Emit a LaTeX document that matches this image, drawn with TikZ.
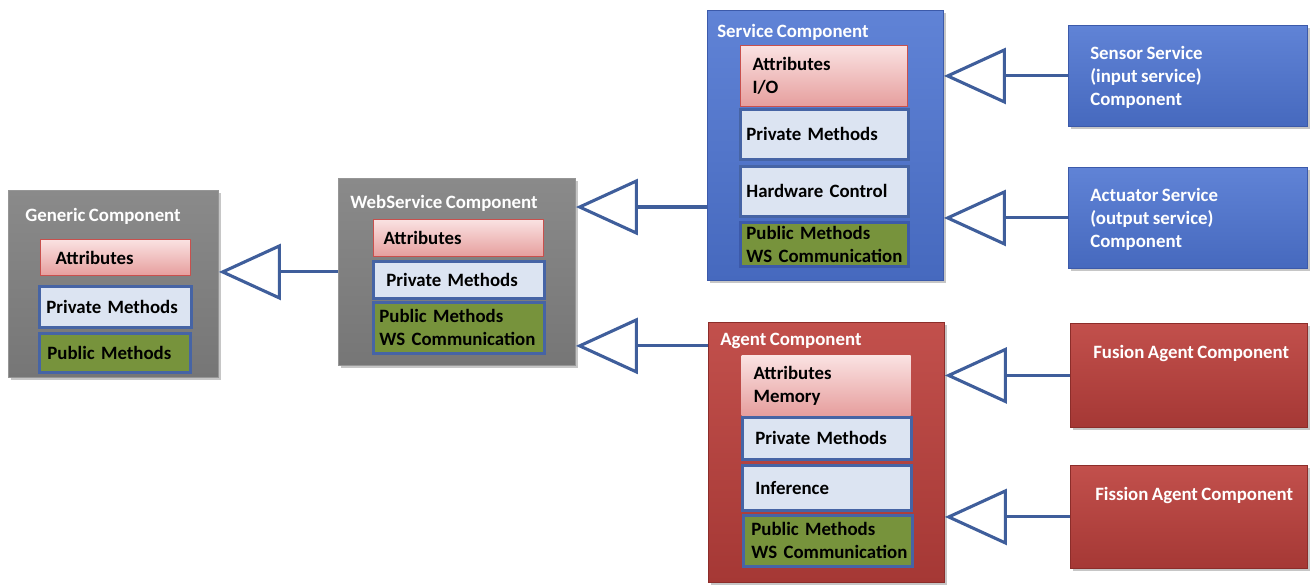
\documentclass[tikz,border=0pt]{standalone}
\usepackage{fontspec}
\setmainfont{Carlito}[WordSpace=0.8]
\usetikzlibrary{arrows.meta,positioning,shadows}
\hyphenpenalty=10000
\definecolor{gtop}{RGB}{138,138,138}
\definecolor{gbot}{RGB}{118,118,118}
\definecolor{gbd}{RGB}{150,150,150}
\definecolor{btop}{RGB}{96,131,214}
\definecolor{bbot}{RGB}{70,105,190}
\definecolor{bbd}{RGB}{60,90,170}
\definecolor{rtop}{RGB}{194,80,76}
\definecolor{rbot}{RGB}{165,56,53}
\definecolor{rbd}{RGB}{140,45,42}
\definecolor{atop}{RGB}{250,226,226}
\definecolor{abot}{RGB}{230,158,157}
\definecolor{abd}{RGB}{200,80,77}
\definecolor{pc}{RGB}{220,228,242}
\definecolor{grc}{RGB}{119,147,60}
\definecolor{pbd}{RGB}{70,100,165}
\definecolor{ac}{RGB}{63,94,155}
\tikzset{comp/.style={draw,anchor=north west,inner sep=0pt,line width=.6pt,
   drop shadow={shadow xshift=1.5pt,shadow yshift=-1.5pt,opacity=.45}},
 gcomp/.style={comp,top color=gtop,bottom color=gbot,draw=gbd},
 bcomp/.style={comp,top color=btop,bottom color=bbot,draw=bbd},
 rcomp/.style={comp,top color=rtop,bottom color=rbot,draw=rbd},
 ttl/.style={anchor=west,text=white,inner sep=0pt},
 leaf/.style={anchor=west,text=white,align=left,inner sep=0pt},
 part/.style={anchor=north west,align=left,inner ysep=0pt},
 attr/.style={part,draw=abd,line width=.8pt,top color=atop,bottom color=abot},
 priv/.style={part,draw=pbd,line width=2pt,fill=pc},
 pub/.style={part,draw=pbd,line width=2pt,fill=grc},
 inh/.style={draw=ac,line width=2.2pt,-{Triangle[open,length=1.55cm,width=1.4cm]}}}
\begin{document}
\begin{tikzpicture}[x=0.025cm,y=-0.025cm,font=\fontsize{13.4}{16.4}\selectfont\bfseries]
\useasboundingbox (0,0) rectangle (1310,586);
% generic component
\node[gcomp,minimum width=5.25cm,minimum height=4.675cm] (gen) at (8,190) {};
\node[ttl] (gent) at (25,216) {Generic Component};
\node[attr,inner xsep=.375cm,text width=3cm,minimum height=.9cm] (gena) at (40,239) {Attributes};
\node[priv,inner xsep=.175cm,text width=3.45cm,minimum height=1.025cm] (genp) at (38,285) {Private Methods};
\node[pub,inner xsep=.2cm,text width=3.375cm,minimum height=.975cm] (genu) at (38,332) {Public Methods};
% webservice component
\node[gcomp,minimum width=5.925cm,minimum height=4.675cm] (web) at (338,178) {};
\node[ttl] (webt) at (350,203) {WebService Component};
\node[attr,inner xsep=.25cm,text width=3.75cm,minimum height=.925cm] (weba) at (373,219) {Attributes};
\node[priv,inner xsep=.325cm,text width=3.625cm,minimum height=.925cm] (webp) at (372,260) {Private Methods};
\node[pub,inner xsep=.15cm,text width=3.975cm,minimum height=1.275cm] (webu) at (372,301) {Public Methods\\WS~Communication};
% service component
\node[bcomp,minimum width=5.9cm,minimum height=6.75cm] (svc) at (707,10) {};
\node[ttl] (svct) at (717,32) {Service Component};
\node[attr,inner xsep=.3cm,text width=3.575cm,minimum height=1.525cm] (svca) at (740,45) {Attributes\\I/O};
\node[priv,inner xsep=.15cm,text width=3.9cm,minimum height=1.25cm] (svcp) at (739,108) {Private Methods};
\node[priv,inner xsep=.15cm,text width=3.9cm,minimum height=1.25cm] (svch) at (739,165) {Hardware Control};
\node[pub,draw=bbd,inner xsep=.15cm,text width=3.9cm,minimum height=1.1cm] (svcu) at (739,221) {Public Methods\\WS~Communication};
% agent component
\node[rcomp,minimum width=5.9cm,minimum height=6.5cm] (agt) at (708,322) {};
\node[ttl] (agtt) at (720,341) {Agent Component};
\node[attr,draw=none,inner xsep=.3cm,text width=3.625cm,minimum height=1.5cm] (agta) at (741,355) {Attributes\\Memory};
\node[priv,inner xsep=.325cm,text width=3.575cm,minimum height=1.05cm] (agtp) at (741,416) {Private Methods};
\node[priv,inner xsep=.325cm,text width=3.575cm,minimum height=1.125cm] (agti) at (741,464) {Inference};
\node[pub,inner xsep=.2cm,text width=3.825cm,minimum height=1.275cm] (agtu) at (742,514) {Public Methods\\WS~Communication};
% specialised components
\node[bcomp,minimum width=5.975cm,minimum height=2.525cm] (sen) at (1068,25) {};
\node[leaf] (sent) at (1090,77) {Sensor Service\\(input service)\\Component};
\node[bcomp,minimum width=5.975cm,minimum height=2.525cm] (act) at (1068,167) {};
\node[leaf] (actt) at (1090,219) {Actuator Service\\(output service)\\Component};
\node[rcomp,minimum width=5.925cm,minimum height=2.6cm] (fus) at (1070,323) {};
\node[leaf] (fust) at (1093,353) {Fusion Agent Component};
\node[rcomp,minimum width=5.925cm,minimum height=2.575cm] (fis) at (1070,465) {};
\node[leaf] (fist) at (1095,495) {Fission Agent Component};
% inheritance
\coordinate (wsin) at ([yshift=-.725cm]web.north east);
\coordinate (wain) at ([yshift=.5cm]web.south east);
\draw[inh] (web.west) -- (web.west -| gen.east);
\draw[inh] (svc.west |- wsin) -- (wsin);
\draw[inh] (agt.west |- wain) -- (wain);
\draw[inh] (sen.west) -- (sen.west -| svc.east);
\draw[inh] (act.west) -- (act.west -| svc.east);
\draw[inh] (fus.west) -- (fus.west -| agt.east);
\draw[inh] (fis.west) -- (fis.west -| agt.east);
\end{tikzpicture}
\end{document}
